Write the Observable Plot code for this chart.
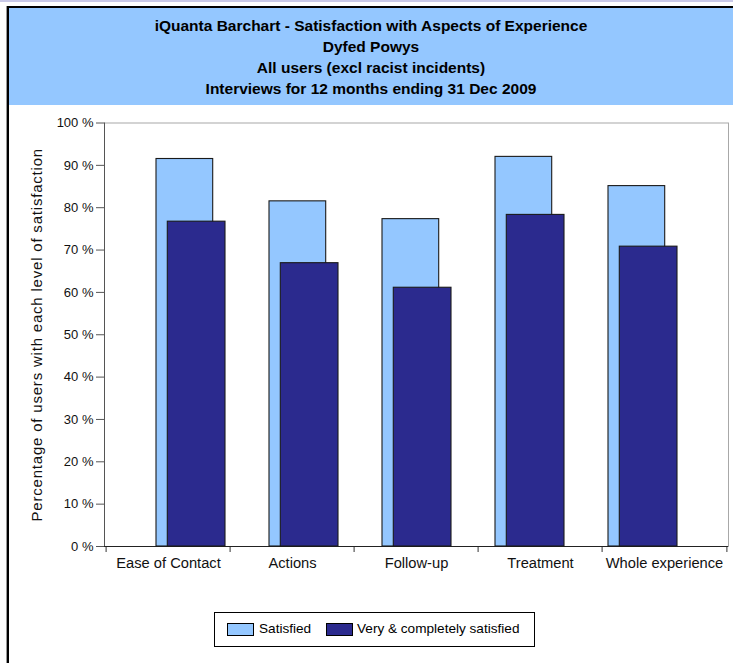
<!DOCTYPE html>
<html>
<head>
<meta charset="utf-8">
<script src="https://cdn.jsdelivr.net/npm/d3@7"></script>
<script src="https://cdn.jsdelivr.net/npm/@observablehq/plot@0.6"></script>
<style>
  html, body { margin: 0; padding: 0; background: #fff; }
  body { width: 733px; height: 663px; position: relative; overflow: hidden; font-family: Arial, "Liberation Sans", sans-serif; }
  #topline { position: absolute; left: 0; top: 0; width: 733px; height: 2px; background: #c9c9e8; }
  #bordertop { position: absolute; left: 7px; top: 6px; width: 726px; height: 2px; background: #000; }
  #borderleft { position: absolute; left: 7px; top: 6px; width: 2px; height: 657px; background: #000; box-shadow: -1px 0 0 #999; }
  #banner { position: absolute; left: 9px; top: 8px; width: 724px; height: 97px; background: #94c7ff; }
  #title { position: absolute; left: 9px; top: 15px; width: 724px; text-align: center; font-weight: bold; font-size: 15.5px; line-height: 21px; color: #000; }
  #chartA, #chartB { position: absolute; left: 0; top: 105px; }
  #chartA .ylab text { letter-spacing: 0.8px; }
  #legend { position: absolute; left: 214px; top: 612px; width: 321px; height: 35px; border: 1px solid #000; box-sizing: border-box; background: #fff; font-size: 13.6px; }
  .sw { position: absolute; top: 10px; width: 27px; height: 13px; border: 1px solid #000; box-sizing: border-box; }
  .lt { position: absolute; top: 8px; line-height: 16px; color: #000; white-space: nowrap; }
</style>
</head>
<body>
<div id="topline"></div>
<div id="banner"></div>
<div id="bordertop"></div>
<div id="borderleft"></div>
<div id="title"></div>
<div id="chartA"></div>
<div id="chartB"></div>
<div id="legend"></div>
<script>
// ---- data ----
const titleLines = [
  "iQuanta Barchart - Satisfaction with Aspects of Experience",
  "Dyfed Powys",
  "All users (excl racist incidents)",
  "Interviews for 12 months ending 31 Dec 2009"
];
const categories = ["Ease of Contact", "Actions", "Follow-up", "Treatment", "Whole experience"];
const satisfied = [91.5, 81.5, 77.3, 92.0, 85.1];
const verySatisfied = [76.7, 66.9, 61.1, 78.3, 70.8];
const yTicks = [0, 10, 20, 30, 40, 50, 60, 70, 80, 90, 100];
const yLabel = "Percentage of users with each level of satisfaction";
const seriesNames = ["Satisfied", "Very & completely satisfied"];
const seriesColors = ["#94c7ff", "#2b2a8e"];

// ---- table ----
const rows = categories.map((c, i) => ({category: c, satisfied: satisfied[i], very: verySatisfied[i]}));

document.getElementById("title").innerHTML = titleLines.map(t => `<div>${t}</div>`).join("");

const W = 733, H = 500, mTop = 17.5, mBottom = 59;
const axMarginLeft = 104, axMarginRight = 5;
const halfStep = (W - axMarginLeft - axMarginRight) / categories.length / 2;
const font = "Arial, 'Liberation Sans', sans-serif";

// Axes layer
const chartA = Plot.plot({
  width: W, height: H,
  marginLeft: axMarginLeft, marginRight: axMarginRight, marginTop: mTop, marginBottom: mBottom,
  style: {background: "transparent", fontFamily: font, color: "#111"},
  x: {type: "band", domain: categories, padding: 0, label: null},
  y: {domain: [0, 100], label: null},
  marks: [
    Plot.frame({stroke: "#a8a8a8"}),
    Plot.axisY({ticks: yTicks, tickSize: 8, tickPadding: 3, tickFormat: d => `${d} %`, fontSize: 13, stroke: "#555", label: null}),
    Plot.text([yLabel], {frameAnchor: "left", textAnchor: "middle", rotate: -90, dx: -67, fontSize: 15, fill: "#111", className: "ylab"}),
    Plot.axisX({tickSize: 0, tickPadding: 11, fontSize: 14.7, label: null}),
    Plot.axisX({ticks: categories, tickSize: 6, tickFormat: () => "", dx: -halfStep, stroke: "#333", label: null}),
    Plot.axisX({ticks: categories.slice(-1), tickSize: 6, tickFormat: () => "", dx: halfStep, stroke: "#333", label: null}),
    Plot.frame({anchor: "left", stroke: "#555"}),
    Plot.ruleY([0], {stroke: "#222"})
  ]
});
document.getElementById("chartA").append(chartA);

// Bars layer
const chartB = Plot.plot({
  width: W, height: H,
  marginLeft: 154.7, marginRight: 54.7, marginTop: mTop, marginBottom: mBottom,
  style: {background: "transparent"},
  x: {type: "band", domain: categories, paddingInner: 0.392, paddingOuter: 0, axis: null},
  y: {domain: [0, 100], axis: null},
  marks: [
    Plot.barY(rows, {x: "category", y: "satisfied", fill: seriesColors[0], stroke: "#1a1a1a", strokeWidth: 1.1, insetRight: 12.3}),
    Plot.barY(rows, {x: "category", y: "very", fill: seriesColors[1], stroke: "#1a1a1a", strokeWidth: 1.1, insetLeft: 11.3})
  ]
});
document.getElementById("chartB").append(chartB);

// Legend
const legend = document.getElementById("legend");
const swX = [12, 111], txX = [44, 142];
seriesNames.forEach((n, i) => {
  const s = document.createElement("div");
  s.className = "sw"; s.style.left = swX[i] + "px"; s.style.background = seriesColors[i];
  legend.append(s);
  const t = document.createElement("div");
  t.className = "lt"; t.style.left = txX[i] + "px"; t.textContent = n;
  legend.append(t);
});
</script>
</body>
</html>
